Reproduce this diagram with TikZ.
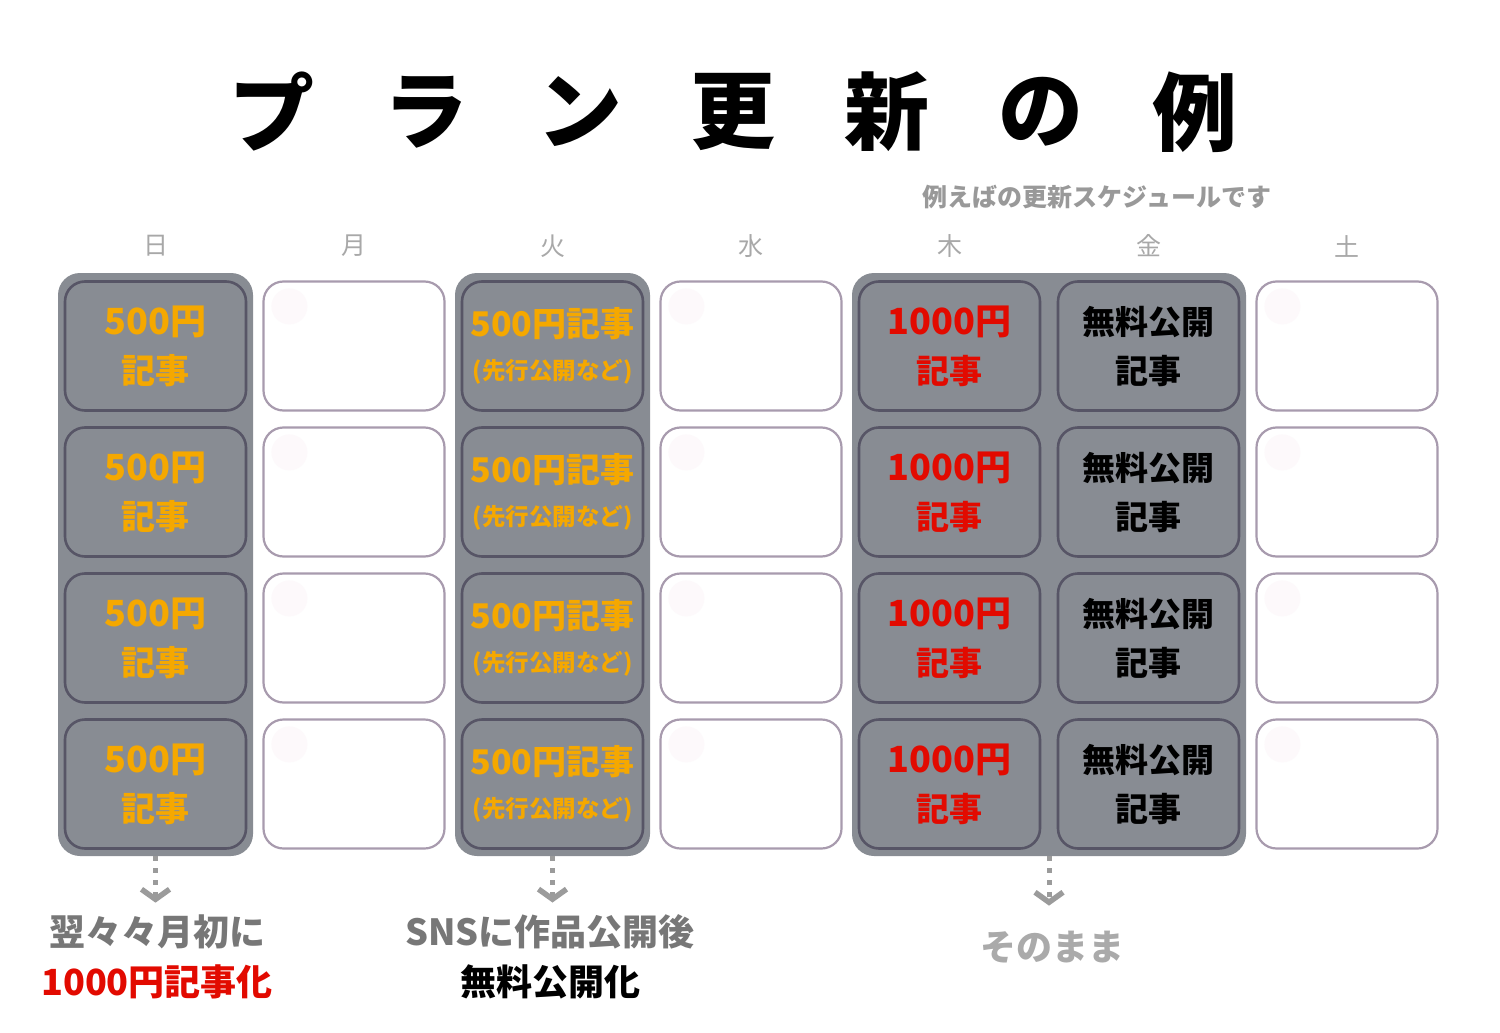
\documentclass[tikz,border=0pt]{standalone}
\usepackage{fontspec}
\usepackage{xcolor}
\usetikzlibrary{positioning, arrows.meta}
\newfontfamily\jp{Noto Sans CJK JP}
\definecolor{panelgray}{HTML}{888C93}
\definecolor{celledge}{HTML}{575566}
\definecolor{emptyedge}{HTML}{A89BAE}
\definecolor{dotpink}{HTML}{FDF9FB}
\definecolor{paidorange}{HTML}{F5A800}
\definecolor{paidred}{HTML}{E20A00}
\definecolor{arrowgray}{HTML}{9B9B9B}
\definecolor{daygray}{HTML}{A8A8A8}
\definecolor{subgray}{HTML}{999999}
\definecolor{notegray}{HTML}{777777}
\definecolor{keepgray}{HTML}{AAAAAA}

\begin{document}
\begin{tikzpicture}[x=1pt, y=-1pt,
            panel/.style={draw=none, fill=panelgray, rounded corners=22pt, inner sep=0pt}, % grey column group
            cell/.style={draw=celledge, line width=2.6pt, fill=panelgray, rounded corners=20pt,
                minimum width=181pt, minimum height=129pt, inner sep=0pt, align=center,
                font=\jp\bfseries\fontsize{36}{49}\selectfont},
            emptycell/.style={cell, draw=emptyedge, line width=2.2pt, fill=white}, % plain day
            titlechar/.style={font=\jp\bfseries\fontsize{85}{85}\selectfont, inner sep=0pt},
            day/.style={text=daygray, font=\jp\fontsize{25}{25}\selectfont, inner sep=0pt},
            note/.style={align=center, inner sep=0pt, font=\jp\bfseries\fontsize{36}{50}\selectfont},
            flow/.style={arrowgray, line width=5pt, dash pattern=on 5pt off 7pt,
                -{Straight Barb[length=10pt, width=28pt, line width=5.5pt]}}
            ]
    \fill[white] (0,0) rectangle (1500,1033);
    \useasboundingbox (0,0) rectangle (1500,1033);

    % title and header
    \foreach \c [count=\i from 0] in {プ,ラ,ン,更,新,の,例}
        \node[titlechar] (title\i) at (272+153.8*\i, 112) {\c};
    \node[text=subgray, font=\jp\bfseries\fontsize{25}{25}\selectfont] (sub) at (1097,197) {例えばの更新スケジュールです};
    \foreach \d [count=\i from 0] in {日,月,火,水,木,金,土}
        \node[day] (day\i) at (155.5+198.6*\i, 246) {\d};

    % grey groups
    \node[panel, minimum width=195pt, minimum height=583pt] (pSun) at (155.5,564.5) {};
    \node[panel, minimum width=195pt, minimum height=583pt] (pTue) at (552.5,564.5) {};
    \node[panel, minimum width=394pt, minimum height=583pt] (pThu) at (1049,564.5) {};

    % weekly cells
    \foreach \r in {0,...,3} {
        \node[cell, text=paidorange] (sun\r) at (155.5, 346+146*\r) {500円\\{\fontsize{34}{49}\selectfont 記事}};
        \node[cell, text=paidorange, font=\jp\bfseries\fontsize{34}{43}\selectfont] (tue\r) at (552.5, 346+146*\r)
            {500円記事\\{\fontsize{23.5}{43}\selectfont (先行公開など)}};
        \node[cell, text=paidred] (thu\r) at (949.5, 346+146*\r) {1000円\\{\fontsize{33}{49}\selectfont 記事}};
        \node[cell, text=black, font=\jp\bfseries\fontsize{33}{49}\selectfont] (fri\r) at (1148.5, 346+146*\r) {無料公開\\記事};
        \foreach \n/\x in {mon/354, wed/751, sat/1347} {
            \node[emptycell] (\n\r) at (\x, 346+146*\r) {};
            \fill[dotpink] ([shift={(27,26)}]\n\r.north west) circle (18);
        }
    }

    % what happens next
    \node[note] (nSun) at (157,957) {\textcolor{notegray}{翌々々月初に}\\\textcolor{paidred}{1000円記事化}};
    \node[note] (nTue) at (550,957) {\textcolor{notegray}{SNSに作品公開後}\\\textcolor{black}{無料公開化}};
    \node[note, text=keepgray] (nThu) at (1052,947) {そのまま};

    \draw[flow, shorten >=12pt] (pSun.south) -- (pSun.south |- nSun.north);
    \draw[flow, shorten >=12pt] (pTue.south) -- (pTue.south |- nTue.north);
    \draw[flow, shorten >=25pt] (pThu.south) -- (pThu.south |- nThu.north);

\end{tikzpicture}
\end{document}
